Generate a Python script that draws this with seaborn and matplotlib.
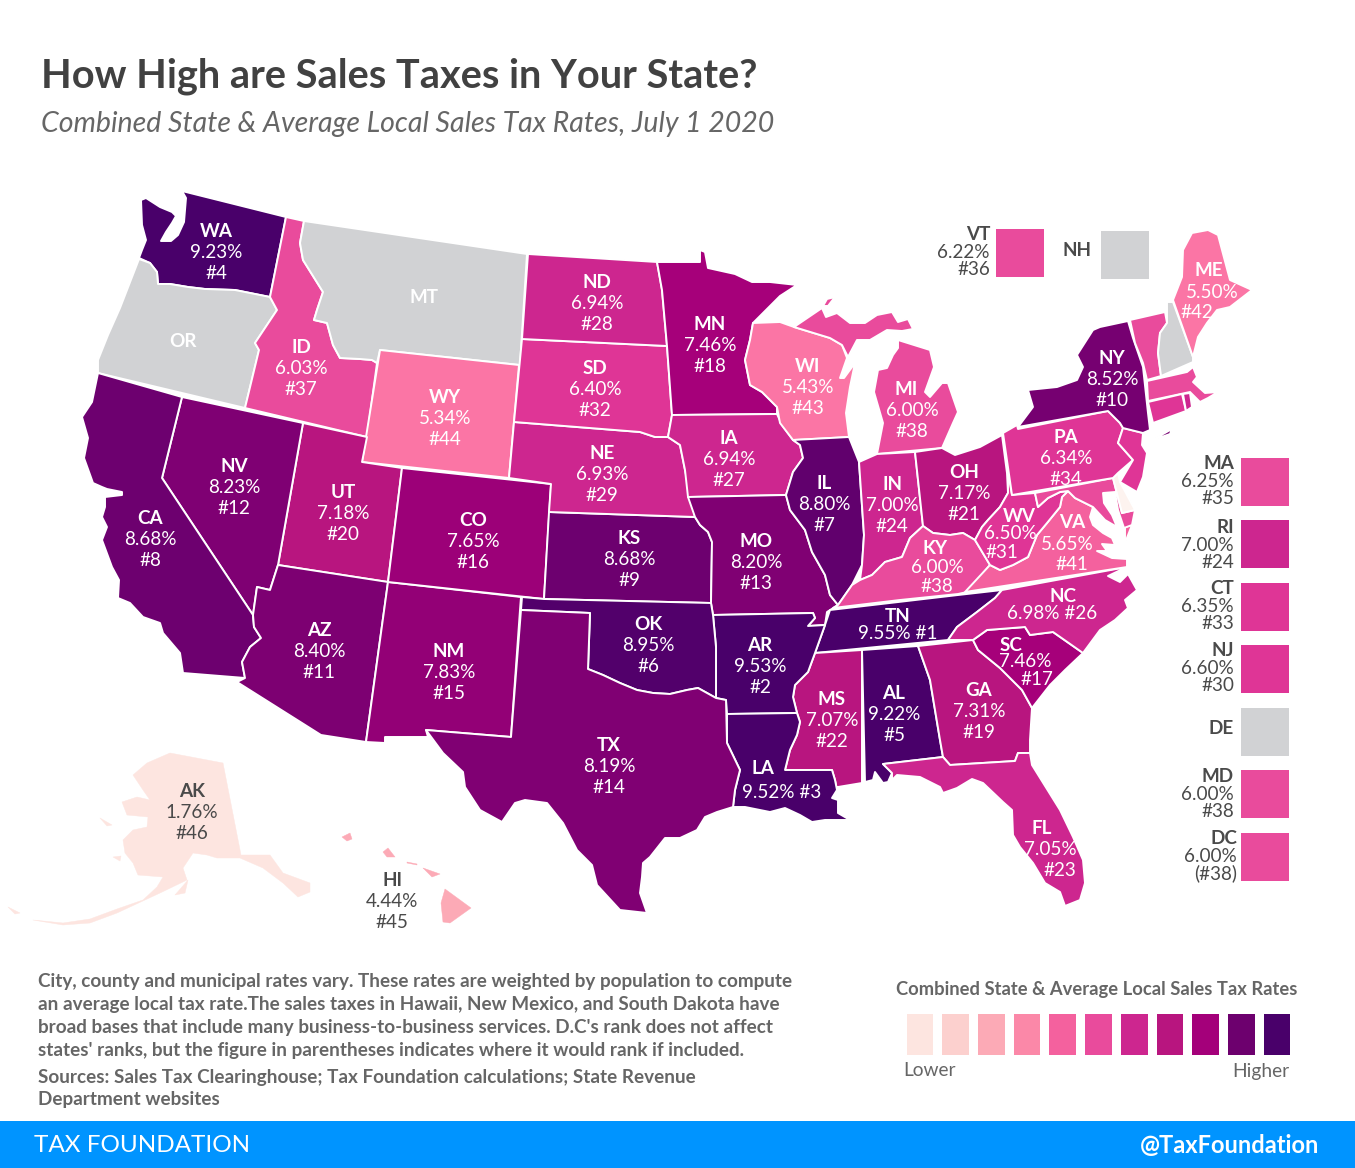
"""
Combined state and average local sales tax rates, July 1 2020.
Hand traced state outlines in image pixels, colours come from the rate scale.
"""
import matplotlib
matplotlib.use("Agg")
import matplotlib.pyplot as plt
from matplotlib.colors import LinearSegmentedColormap, Normalize
from matplotlib.patches import Rectangle
import numpy as np
import seaborn as sns

W, H = 1355, 1168

STATES = ["AL", "AK", "AZ", "AR", "CA", "CO", "CT", "FL", "GA", "HI", "ID", "IL", "IN", "IA", "KS", "KY", "LA",
          "ME", "MD", "MA", "MI", "MN", "MS", "MO", "NE", "NV", "NJ", "NM", "NY", "NC", "ND", "OH", "OK", "PA",
          "RI", "SC", "SD", "TN", "TX", "UT", "VT", "VA", "WA", "WV", "WI", "WY", "DC"]
RATES = [9.22, 1.76, 8.40, 9.53, 8.68, 7.65, 6.35, 7.05, 7.31, 4.44, 6.03, 8.80, 7.00, 6.94, 8.68, 6.00, 9.52,
         5.50, 6.00, 6.25, 6.00, 7.46, 7.07, 8.20, 6.93, 8.23, 6.60, 7.83, 8.52, 6.98, 6.94, 7.17, 8.95, 6.34,
         7.00, 7.46, 6.40, 9.55, 8.19, 7.18, 6.22, 5.65, 9.23, 6.50, 5.43, 5.34, 6.00]
RANKS = ["#5", "#46", "#11", "#2", "#8", "#16", "#33", "#23", "#19", "#45", "#37", "#7", "#24", "#27", "#9", "#38", "#3",
         "#42", "#38", "#35", "#38", "#18", "#22", "#13", "#29", "#12", "#30", "#15", "#10", "#26", "#28", "#21", "#6", "#34",
         "#24", "#17", "#32", "#1", "#14", "#20", "#36", "#41", "#4", "#31", "#43", "#44", "(#38)"]
NO_TAX = ["OR", "MT", "NH", "DE"]

# colour scale, rate -> colour
SCALE_RATES = [1.76, 3.4, 4.44, 5.34, 5.50, 5.65, 6.0, 6.25, 6.34, 6.6, 6.93, 7.05, 7.07, 7.31, 7.46, 7.83, 8.19, 8.4,
               8.68, 8.95, 9.22, 9.55]
SCALE_COLORS = ["#fde5e0", "#fcd0ce", "#fcaab6", "#fb75a5", "#fb75a5", "#f4619e", "#e94b9c", "#e94b9c", "#df3596",
                "#df3596", "#cd268f", "#cd268f", "#b8157f", "#b8157f", "#a6007a", "#930076", "#800073", "#7d0072",
                "#6d006f", "#52006b", "#49006a", "#49006a"]
LEGEND_COLORS = ["#fde5e0", "#fcd0ce", "#fcaab6", "#fb88a8", "#f4619e", "#e94b9c", "#cd268f", "#b8157f", "#a4007a",
                 "#6d006e", "#49006a"]

GREY = "#d1d2d4"
DE_COLOR = "#fdf3ef"

SHAPES = {
    "WA": [[(182, 191), (286, 217), (270, 297), (235, 290), (205, 289), (188, 287), (170, 284), (158, 284), (157, 272),
            (150, 263), (139, 258), (142, 250), (146, 240), (142, 225), (141, 200), (146, 198), (160, 207), (172, 212),
            (176, 216), (172, 223), (166, 232), (161, 241), (171, 241), (178, 235), (184, 222), (185, 210), (186, 198)]],
    "OR": [[(139, 259), (150, 263), (157, 272), (158, 284), (170, 284), (188, 287), (205, 289), (235, 290), (270, 297),
            (277, 310), (255, 343), (259, 350), (245, 408), (98, 373), (98, 360), (108, 335), (120, 308)]],
    "ID": [[(286, 217), (304, 221), (300, 243), (303, 260), (313, 276), (323, 292), (317, 310), (314, 320), (327, 323),
            (333, 345), (340, 358), (360, 359), (372, 360), (377, 363), (367, 437), (245, 408), (259, 350), (255, 343),
            (277, 310), (270, 297)]],
    "MT": [[(304, 221), (527, 254), (520, 365), (380, 350), (377, 363), (372, 360), (360, 359), (340, 358), (333, 345),
            (327, 323), (314, 320), (317, 310), (323, 292), (313, 276), (303, 260), (300, 243)]],
    "WY": [[(380, 350), (519, 365), (509, 478), (362, 462)]],
    "UT": [[(303, 423), (367, 437), (362, 462), (402, 468), (388, 582), (278, 565)]],
    "NV": [[(182, 397), (303, 423), (278, 565), (270, 590), (257, 587), (253, 615), (162, 478)]],
    "CA": [[(98, 373), (182, 397), (162, 478), (253, 615), (254, 627), (261, 638), (250, 647), (242, 662), (245, 678),
            (183, 673), (180, 653), (163, 633), (160, 623), (143, 617), (130, 603), (118, 598), (119, 580), (112, 567),
            (102, 540), (107, 527), (102, 517), (105, 507), (105, 497), (122, 495), (122, 492), (107, 489), (102, 487),
            (93, 483), (84, 458), (88, 438), (82, 417), (92, 402)]],
    "AZ": [[(278, 565), (388, 582), (366, 742), (321, 735), (237, 682), (245, 678), (242, 662), (250, 647), (261, 638),
            (254, 627), (253, 615), (257, 587), (270, 590)]],
    "NM": [[(388, 582), (521, 597), (520, 610), (511, 737), (426, 730), (428, 737), (385, 737), (385, 743), (366, 742)]],
    "CO": [[(402, 468), (551, 484), (544, 599), (388, 582)]],
    "KS": [[(549, 512), (695, 517), (700, 525), (708, 532), (712, 542), (711, 603), (544, 599)]],
    "NE": [[(514, 422), (640, 432), (655, 437), (668, 437), (680, 445), (685, 470), (695, 517), (549, 512), (551, 484),
            (509, 478)]],
    "SD": [[(522, 339), (667, 346), (672, 415), (668, 437), (655, 437), (640, 432), (514, 422)]],
    "ND": [[(528, 254), (657, 262), (662, 290), (667, 346), (522, 339)]],
    "MN": [[(657, 262), (700, 262), (700, 250), (705, 252), (708, 268), (735, 274), (752, 282), (770, 282), (797, 285),
            (780, 296), (753, 323), (750, 340), (745, 360), (750, 385), (762, 392), (777, 407), (777, 414), (672, 415),
            (667, 346), (662, 290)]],
    "IA": [[(672, 415), (777, 414), (782, 425), (793, 440), (800, 445), (803, 458), (793, 472), (786, 495), (688, 497),
            (685, 470), (680, 445), (668, 437)]],
    "MO": [[(688, 497), (786, 495), (790, 510), (805, 530), (812, 552), (825, 575), (830, 595), (838, 605), (827, 612),
            (825, 625), (808, 626), (815, 618), (813, 613), (713, 615), (711, 603), (712, 542), (708, 532), (700, 525),
            (695, 517)]],
    "WI": [[(753, 323), (780, 322), (794, 327), (830, 338), (842, 345), (847, 358), (840, 378), (844, 378), (855, 363),
            (850, 387), (846, 413), (849, 437), (793, 440), (780, 423), (777, 407), (762, 392), (750, 385), (745, 360),
            (750, 340)]],
    "MI": [[(794, 327), (822, 308), (826, 317), (837, 313), (850, 323), (865, 323), (877, 315), (892, 312), (898, 322),
            (908, 319), (913, 329), (902, 331), (887, 330), (870, 340), (857, 340), (848, 357), (842, 345), (830, 338)],
           [(898, 340), (930, 350), (934, 367), (925, 392), (930, 397), (942, 383), (948, 383), (958, 412), (953, 423),
            (942, 448), (877, 454), (883, 423), (874, 392), (878, 370), (887, 368), (893, 355), (898, 348)],
           [(823, 306), (827, 299), (835, 297), (828, 306)]],
    "IL": [[(793, 440), (849, 437), (859, 462), (864, 535), (862, 565), (852, 585), (838, 605), (830, 595), (825, 575),
            (812, 552), (805, 530), (790, 510), (786, 495), (793, 472), (803, 458), (800, 445)]],
    "IN": [[(859, 462), (877, 454), (915, 452), (923, 526), (910, 538), (902, 557), (885, 562), (872, 575), (860, 580),
            (862, 565), (864, 535)]],
    "OH": [[(915, 452), (942, 448), (955, 455), (980, 447), (1002, 435), (1007, 473), (1008, 493), (1000, 507), (988, 520),
            (982, 527), (975, 540), (963, 533), (950, 535), (933, 533), (923, 526)]],
    "KY": [[(923, 526), (933, 533), (950, 535), (963, 533), (975, 540), (990, 565), (967, 592), (958, 594), (900, 600),
            (833, 608), (838, 605), (852, 585), (860, 580), (872, 575), (885, 562), (902, 557), (910, 538)]],
    "TN": [[(830, 610), (958, 595), (1002, 590), (995, 598), (977, 612), (957, 627), (948, 640), (815, 653), (825, 625)]],
    "MS": [[(815, 653), (862, 650), (862, 783), (838, 787), (837, 790), (835, 780), (832, 770), (785, 770), (790, 750),
            (797, 735), (800, 722), (797, 713), (793, 697), (795, 685), (808, 672)]],
    "AL": [[(862, 650), (918, 646), (930, 680), (940, 740), (943, 757), (883, 764), (892, 773), (888, 782), (883, 783),
            (875, 772), (873, 780), (865, 782)]],
    "GA": [[(918, 646), (973, 640), (978, 650), (1000, 668), (1022, 690), (1032, 708), (1030, 740), (1030, 753), (1018, 753),
            (1015, 761), (950, 765), (943, 757), (940, 740), (930, 680)]],
    "FL": [[(883, 764), (943, 757), (950, 765), (1015, 761), (1018, 753), (1030, 753), (1032, 765), (1060, 810), (1073, 837),
            (1083, 860), (1085, 883), (1080, 900), (1065, 906), (1060, 892), (1045, 883), (1033, 863), (1020, 847), (1013, 835),
            (1012, 810), (1003, 802), (983, 783), (972, 779), (957, 788), (943, 793), (940, 787), (920, 777), (897, 775),
            (892, 780), (892, 773)]],
    "SC": [[(973, 640), (987, 630), (1025, 627), (1030, 635), (1053, 632), (1083, 653), (1065, 670), (1050, 685),
            (1032, 708), (1022, 690), (1000, 668), (978, 650)]],
    "NC": [[(1002, 590), (1127, 567), (1108, 576), (1120, 582), (1128, 574), (1137, 590), (1125, 600), (1128, 608), (1115, 620),
            (1100, 630), (1083, 653), (1053, 632), (1030, 635), (1025, 627), (987, 630), (973, 640), (948, 640), (957, 627),
            (977, 612), (995, 598)]],
    "VA": [[(1062, 497), (1068, 491), (1075, 498), (1093, 507), (1090, 517), (1093, 525), (1103, 533), (1112, 538), (1115, 545),
            (1102, 544), (1107, 551), (1097, 551), (1112, 558), (1127, 559), (1127, 567), (965, 592), (990, 565), (1000, 570),
            (1013, 565), (1028, 557), (1037, 535), (1047, 523), (1060, 507)],
           [(1125, 527), (1132, 525), (1125, 543)]],
    "WV": [[(1008, 472), (1012, 495), (1035, 493), (1038, 507), (1048, 498), (1060, 492), (1068, 491), (1062, 497),
            (1060, 507), (1047, 523), (1037, 535), (1028, 557), (1013, 565), (1000, 570), (990, 565), (975, 540),
            (982, 527), (988, 520), (1000, 507), (1008, 493)]],
    "MD": [[(1035, 493), (1113, 478), (1122, 513), (1135, 510), (1132, 525), (1124, 528), (1118, 510), (1115, 492), (1103, 493),
            (1104, 503), (1112, 515), (1117, 527), (1105, 520), (1093, 507), (1075, 498), (1068, 491), (1060, 492),
            (1048, 498), (1038, 507)]],
    "DE": [[(1113, 478), (1118, 473), (1120, 482), (1135, 510), (1122, 513)]],
    "PA": [[(1003, 433), (1017, 425), (1018, 429), (1108, 411), (1120, 423), (1123, 428), (1118, 443), (1133, 460),
            (1118, 473), (1113, 478), (1012, 495)]],
    "NJ": [[(1123, 428), (1143, 433), (1142, 445), (1147, 453), (1143, 477), (1137, 492), (1120, 482), (1133, 460), (1118, 443)]],
    "NY": [[(1018, 427), (1033, 407), (1028, 390), (1057, 387), (1077, 380), (1083, 367), (1077, 355), (1093, 330),
            (1100, 327), (1128, 321), (1133, 338), (1143, 367), (1148, 413), (1150, 430), (1143, 433), (1123, 428), (1120, 423),
            (1108, 411)],
           [(1147, 443), (1172, 429), (1170, 434), (1150, 441)]],
    "VT": [[(1130, 320), (1165, 312), (1167, 323), (1160, 333), (1158, 353), (1161, 376), (1147, 380), (1143, 363), (1135, 343)]],
    "NH": [[(1167, 302), (1173, 302), (1193, 357), (1193, 362), (1161, 376), (1158, 353), (1160, 333), (1167, 323)]],
    "ME": [[(1173, 300), (1182, 277), (1183, 250), (1192, 233), (1208, 230), (1218, 235), (1230, 280), (1252, 290), (1230, 307),
            (1217, 310), (1207, 323), (1198, 337), (1193, 357)]],
    "MA": [[(1147, 381), (1187, 372), (1193, 367), (1197, 377), (1193, 382), (1205, 393), (1218, 392), (1208, 398), (1200, 402),
            (1190, 392), (1148, 401)]],
    "CT": [[(1148, 402), (1182, 394), (1186, 411), (1153, 423)]],
    "RI": [[(1183, 394), (1190, 393), (1192, 407), (1186, 411)]],
    "AR": [[(713, 615), (813, 613), (815, 618), (808, 626), (825, 625), (815, 653), (808, 672), (795, 685), (793, 697),
            (797, 713), (727, 714), (726, 700), (716, 698), (716, 647)]],
    "LA": [[(727, 714), (797, 713), (800, 722), (797, 735), (790, 750), (785, 770), (832, 770), (835, 780), (837, 790),
            (832, 798), (838, 800), (838, 813), (850, 820), (825, 820), (812, 822), (800, 815), (785, 808), (770, 812),
            (745, 807), (733, 807), (735, 790), (740, 770), (727, 743)]],
    "OK": [[(522, 597), (544, 599), (711, 603), (713, 615), (716, 647), (716, 698), (698, 688), (687, 690), (670, 694),
            (653, 693), (637, 690), (620, 683), (603, 675), (588, 669), (590, 613), (521, 610)]],
    "TX": [[(521, 610), (590, 613), (588, 669), (603, 675), (620, 683), (637, 690), (653, 693), (670, 694), (687, 690),
            (698, 688), (716, 698), (726, 700), (727, 743), (740, 770), (735, 790), (733, 807), (717, 812), (705, 817),
            (697, 830), (680, 838), (665, 838), (650, 857), (643, 863), (642, 877), (640, 893), (647, 913), (620, 910),
            (597, 885), (592, 865), (577, 850), (563, 823), (547, 803), (525, 800), (515, 803), (502, 822), (480, 810),
            (465, 787), (463, 772), (443, 753), (426, 730), (511, 737)]],
    "AK": [[(170, 753), (223, 763), (241, 855), (248, 855), (270, 855), (283, 873), (310, 883), (310, 892), (298, 897), (283, 883),
            (263, 868), (240, 858), (217, 858), (207, 855), (193, 853), (183, 868), (187, 880), (160, 893), (117, 913), (90, 923),
            (63, 925), (33, 920), (63, 923), (90, 919), (117, 909), (143, 900), (157, 887), (163, 877), (138, 875), (133, 863),
            (125, 853), (123, 840), (133, 830), (147, 827), (148, 817), (127, 815), (122, 802), (137, 797), (150, 800), (143, 790),
            (133, 775), (147, 763)],
           [(175, 895), (188, 880), (185, 893)], [(100, 818), (112, 825), (107, 826)], [(113, 857), (121, 856), (120, 861)],
           [(8, 907), (20, 913), (15, 914)]],
    "HI": [[(342, 837), (350, 833), (352, 839), (347, 841)], [(383, 852), (388, 848), (395, 857), (387, 857)],
           [(407, 862), (417, 864), (417, 865), (407, 863)], [(423, 868), (440, 874), (432, 877), (427, 872)],
           [(445, 889), (471, 908), (450, 923), (443, 922), (441, 903)]],
}

# label anchors: x, y of name line, then step to the next lines
LABEL_POS = {
    "WA": (216, 230), "ID": (301, 346), "WY": (445, 396), "NV": (234, 465), "CA": (150, 517), "UT": (343, 491),
    "CO": (473, 519), "AZ": (319, 629), "NM": (449, 650), "ND": (597, 281), "SD": (595, 367), "NE": (602, 452),
    "KS": (629, 537), "OK": (648, 623), "TX": (609, 744), "MN": (710, 323), "IA": (729, 437), "MO": (756, 540),
    "AR": (760, 644), "IL": (824, 482), "WI": (808, 365), "IN": (892, 483), "OH": (964, 471), "MS": (832, 698),
    "AL": (894, 692), "GA": (979, 689), "PA": (1066, 436), "NY": (1112, 357),
}
# states whose three lines do not stack straight
LABEL_LINES = {
    "MI": [(906, 388), (912, 409), (912, 430)],
    "FL": [(1042, 827), (1050, 848), (1060, 869)],
    "SC": [(1011, 644), (1025, 660), (1037, 678)],
    "VA": [(1072, 521), (1067, 543), (1072, 563)],
    "WV": [(1019, 515), (1010, 532), (1002, 551)],
    "KY": [(935, 547), (937, 566), (937, 585)],
    "ME": [(1209, 269), (1212, 291), (1197, 311)],
}
# one line for rate and rank
LABEL_JOINED = {"LA": [(763, 767), (782, 791)], "TN": [(898, 615), (898, 632)], "NC": [(1063, 595), (1052, 612)]}

SIDE_POS = {"VT": (996, 229), "NH": (1101, 231), "MA": (1241, 458), "RI": (1241, 520), "CT": (1241, 583), "NJ": (1241, 645),
            "DE": (1241, 708), "MD": (1241, 770), "DC": (1241, 833)}
SIDE_TEXT = {"VT": (990, 233), "NH": (1092, 249), "MA": (1234, 462), "RI": (1234, 526), "CT": (1234, 587), "NJ": (1234, 649),
             "DE": (1234, 727), "MD": (1234, 775), "DC": (1237, 837)}

NOTE_LINES = [
    "City, county and municipal rates vary. These rates are weighted by population to compute",
    "an average local tax rate.The sales taxes in Hawaii, New Mexico, and South Dakota have",
    "broad bases that include many business-to-business services. D.C's rank does not affect",
    "states' ranks, but the figure in parentheses indicates where it would rank if included.",
]
SOURCE_LINES = [
    "Sources: Sales Tax Clearinghouse; Tax Foundation calculations; State Revenue",
    "Department websites",
]

sns.set_theme(style="white")
plt.rcParams["font.family"] = ["Lato", "DejaVu Sans"]

rate_of = dict(zip(STATES, RATES))
rank_of = dict(zip(STATES, RANKS))
pos = (np.array(SCALE_RATES) - SCALE_RATES[0]) / (SCALE_RATES[-1] - SCALE_RATES[0])
cmap = LinearSegmentedColormap.from_list("rates", list(zip(pos, SCALE_COLORS)), N=2048)
norm = Normalize(SCALE_RATES[0], SCALE_RATES[-1])


def state_color(st):
    if st == "DE":
        return DE_COLOR
    if st in NO_TAX:
        return GREY
    return cmap(norm(rate_of[st]))


fig = plt.figure(figsize=(W / 100, H / 100), dpi=100)
ax = fig.add_axes([0, 0, 1, 1])
ax.set_xlim(0, W)
ax.set_ylim(H, 0)
ax.axis("off")

for st, parts in SHAPES.items():
    for part in parts:
        xs, ys = zip(*part)
        edge = state_color(st) if st in ("AK", "HI") else "white"
        ax.fill(xs, ys, fc=state_color(st), ec=edge, lw=0.3 if st in ("AK", "HI") else 1.4, joinstyle="round")

TXT_SIZE = 13.6
WHITE = "white"
DARK = "#4a4a4a"


def put(x, y, s, color, bold=False, ha="center", size=TXT_SIZE):
    ax.text(x, y + 1.5, s, color=color, fontsize=size, fontweight="bold" if bold else "normal", ha=ha, va="center")


for st, (x, y) in LABEL_POS.items():
    put(x, y, st, WHITE, True)
    put(x, y + 21, f"{rate_of[st]:.2f}%", WHITE)
    put(x, y + 42, rank_of[st], WHITE)

for st, lines in LABEL_LINES.items():
    put(*lines[0], st, WHITE, True)
    put(*lines[1], f"{rate_of[st]:.2f}%", WHITE)
    put(*lines[2], rank_of[st], WHITE)

for st, lines in LABEL_JOINED.items():
    put(*lines[0], st, WHITE, True)
    put(*lines[1], f"{rate_of[st]:.2f}% {rank_of[st]}", WHITE)

put(183, 340, "OR", WHITE, True)
put(424, 296, "MT", WHITE, True)

for st, (x, y) in {"AK": (192, 790), "HI": (392, 879)}.items():
    put(x, y, st, DARK, True)
    put(x, y + 21, f"{rate_of[st]:.2f}%", DARK)
    put(x, y + 42, rank_of[st], DARK)

for st, (x, y) in SIDE_POS.items():
    ax.add_patch(Rectangle((x, y), 48, 48, fc=state_color(st) if st != "DE" else GREY, ec="none"))

for st, (x, y) in SIDE_TEXT.items():
    put(x, y, st, DARK, True, ha="right")
    if st in rate_of:
        put(x, y + 18, f"{rate_of[st]:.2f}%", DARK, ha="right")
        put(x, y + 35, rank_of[st], DARK, ha="right")

ax.text(41, 76, "How High are Sales Taxes in Your State?", fontsize=28.6, fontweight="bold", color="#414141", ha="left", va="center")
ax.text(41, 124, "Combined State & Average Local Sales Tax Rates, July 1 2020", fontsize=20.55, style="italic", color="#666666",
        ha="left", va="center")

for i, line in enumerate(NOTE_LINES):
    ax.text(38, 982 + i * 22.7, line, fontsize=13.6, color="#666666", fontweight="bold", ha="left", va="center")
for i, line in enumerate(SOURCE_LINES):
    ax.text(38, 1077 + i * 23, line, fontsize=13.6, color="#666666", fontweight="bold", ha="left", va="center")

ax.text(1096.5, 990, "Combined State & Average Local Sales Tax Rates", fontsize=13.25, fontweight="bold", color="#666666",
        ha="center", va="center")
ax.text(903, 1071, "Lower", fontsize=13.8, color="#666666", ha="left", va="center")
ax.text(1289, 1071, "Higher", fontsize=13.8, color="#666666", ha="right", va="center")

# legend swatches, gaps come from the heatmap cell borders
leg = fig.add_axes([901.65 / W, 1 - 1059.35 / H, 392.7 / W, 50.7 / H])
sns.heatmap(np.arange(11).reshape(1, -1), cmap=LEGEND_COLORS, cbar=False, xticklabels=False, yticklabels=False,
            linewidths=6.25, linecolor="white", ax=leg)

# footer band
ax.add_patch(Rectangle((0, 1121), W, 47, fc="#0094ff", ec="none"))
ax.text(34, 1145, "TAX FOUNDATION", fontsize=17.5, color="white", ha="left", va="center")
ax.text(1319, 1145, "@TaxFoundation", fontsize=17, color="white", fontweight="bold", ha="right", va="center")

fig.savefig("out.png", dpi=100)
plt.close(fig)
